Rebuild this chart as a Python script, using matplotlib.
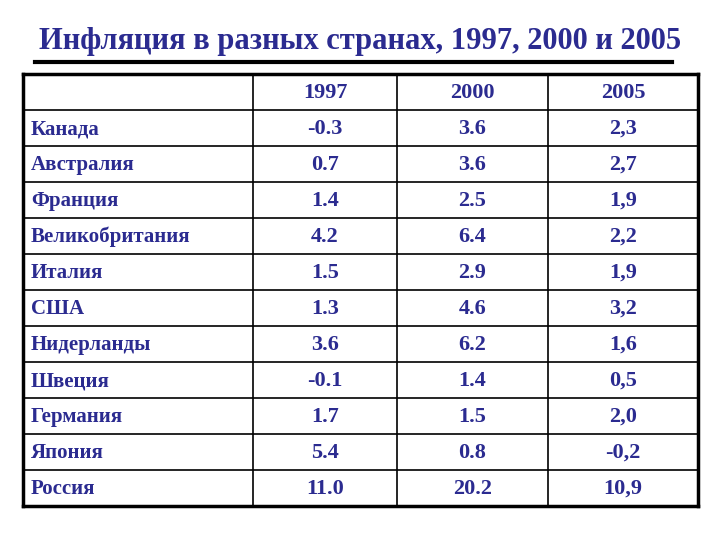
import matplotlib.pyplot as plt

countries = ['Канада', 'Австралия', 'Франция', 'Великобритания', 'Италия', 'США',
             'Нидерланды', 'Швеция', 'Германия', 'Япония', 'Россия']
years = ['1997', '2000', '2005']
v1997 = ['-0.3', '0.7', '1.4', '4.2', '1.5', '1.3', '3.6', '-0.1', '1.7', '5.4', '11.0']
v2000 = ['3.6', '3.6', '2.5', '6.4', '2.9', '4.6', '6.2', '1.4', '1.5', '0.8', '20.2']
v2005 = ['2,3', '2,7', '1,9', '2,2', '1,9', '3,2', '1,6', '0,5', '2,0', '-0,2', '10,9']

W, H = 720, 540
fig = plt.figure(figsize=(7.2, 5.4), dpi=100)
ax = fig.add_axes([0, 0, 1, 1])
ax.set_xlim(0, W)
ax.set_ylim(H, 0)
ax.axis('off')

col = '#2B2B90'
font = dict(family='Liberation Serif', weight='bold', color=col)

ax.text(360, 42, 'Инфляция в разных странах, 1997, 2000 и 2005',
        ha='center', va='center', fontsize=22, **font)
ax.plot([35, 672], [62, 62], color='black', lw=3)

x_lines = [23, 253, 397, 548, 698]
top, rh = 74, 36
n = len(countries) + 1
bottom = top + n * rh
for i in range(n + 1):
    y = top + i * rh
    ax.plot([x_lines[0], x_lines[-1]], [y, y], color='black',
            lw=2.5 if i in (0, n) else 1.2)
for j, x in enumerate(x_lines):
    ax.plot([x, x], [top, bottom], color='black',
            lw=2.5 if j in (0, len(x_lines) - 1) else 1.2)

centers = [(x_lines[k] + x_lines[k + 1]) / 2 for k in range(1, 4)]
for k, yr in enumerate(years):
    ax.text(centers[k], top + rh / 2 + 1, yr, ha='center', va='center', fontsize=16, **font)
for i, c in enumerate(countries):
    y = top + (i + 1.5) * rh + 1
    ax.text(31, y, c, ha='left', va='center', fontsize=15, **font)
    for k, vals in enumerate([v1997, v2000, v2005]):
        ax.text(centers[k], y, vals[i], ha='center', va='center', fontsize=16, **font)

fig.savefig('out.png', dpi=100)
